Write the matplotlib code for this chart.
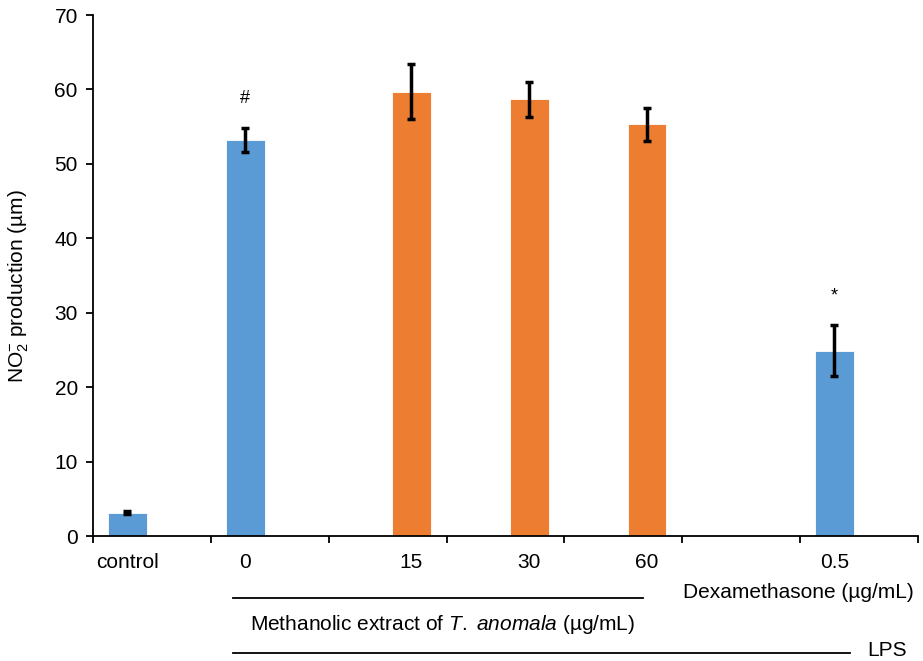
import matplotlib.pyplot as plt

plt.rcParams['font.family'] = ['Liberation Sans', 'DejaVu Sans']
plt.rcParams['mathtext.fontset'] = 'custom'
plt.rcParams['mathtext.rm'] = 'Liberation Sans'
plt.rcParams['mathtext.it'] = 'Liberation Sans:italic'

# one slot per category on the category axis (slot 5 is left empty)
labels = ['control', '0', '15', '30', '60', '0.5']
slots = [0, 1, 2, 3, 4, 6]
series = ['blue', 'blue', 'orange', 'orange', 'orange', 'blue']
no2 = [3.1, 53.2, 59.7, 58.7, 55.3, 24.9]
err = [0.2, 1.6, 3.7, 2.35, 2.2, 3.4]
marks = ['', '#', '', '', '', '*']

colors = {'blue': '#5B9BD5', 'orange': '#ED7D31'}
offsets = {'blue': 0.29, 'orange': 0.70}
n_slots = 7
fs = 15

fig = plt.figure(figsize=(9.23, 6.61), dpi=100)
ax = fig.add_axes([0.1008, 0.1891, 0.8938, 0.7882])

xs = [s + offsets[c] for s, c in zip(slots, series)]
ax.bar(xs, no2, width=0.33, color=[colors[c] for c in series],
       edgecolor='white', linewidth=0.6, zorder=2)
ax.errorbar(xs, no2, yerr=err, fmt='none', ecolor='black', elinewidth=2.5,
            capsize=3, capthick=2.5, zorder=3)

for x, y, e, m, lab in zip(xs, no2, err, marks, labels):
    if m:
        ax.text(x, y + e + 4.0, m, ha='center', va='center', fontsize=13)
    ax.text(x, -3.6, lab, ha='center', va='center', fontsize=fs)

ax.set_xlim(0, n_slots)
ax.set_ylim(0, 70)
ax.set_yticks(range(0, 71, 10))
ax.set_xticks(range(0, n_slots + 1))
ax.set_xticklabels([])
ax.tick_params(axis='y', labelsize=fs, direction='out', length=5, width=1.3, pad=6)
ax.tick_params(axis='x', direction='out', length=5, width=1.3)
for side in ['top', 'right']:
    ax.spines[side].set_visible(False)
for side in ['left', 'bottom']:
    ax.spines[side].set_linewidth(1.3)
ax.set_ylabel(r'NO$_2^{-}$ production (µm)', fontsize=fs)
ax.yaxis.set_label_coords(-0.075, 0.48)

# group annotations below the axis
fig.text(683 / 923, 1 - 592 / 661, 'Dexamethasone (µg/mL)', fontsize=fs,
         ha='left', va='center')
fig.add_artist(plt.Line2D([233 / 923, 643 / 923], [1 - 598 / 661] * 2,
                          color='black', lw=1.3))
fig.text(250 / 923, 1 - 624 / 661,
         r'Methanolic extract of $\it{T.}$ $\it{anomala}$ (µg/mL)',
         fontsize=fs, ha='left', va='center')
fig.add_artist(plt.Line2D([233 / 923, 850 / 923], [1 - 653 / 661] * 2,
                          color='black', lw=1.3))
fig.text(867 / 923, 1 - 650 / 661, 'LPS', fontsize=fs, ha='left', va='center')

fig.savefig('out.png', dpi=100)
